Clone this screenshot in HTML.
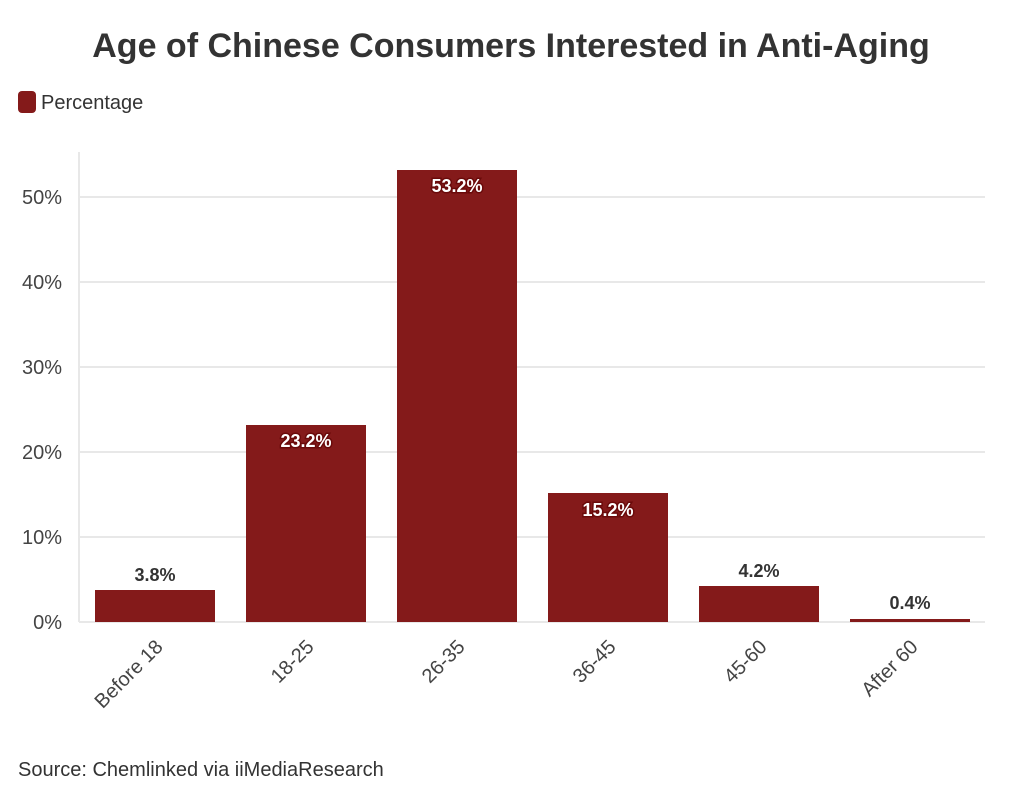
<!DOCTYPE html>
<html><head><meta charset="utf-8"><style>
body{margin:0;background:#fff;width:1022px;height:800px;overflow:hidden;font-family:"Liberation Sans",sans-serif;}
</style></head><body>
<svg width="1022" height="800" xmlns="http://www.w3.org/2000/svg" font-family="Liberation Sans, sans-serif">
<text x="511" y="57" text-anchor="middle" font-size="34" font-weight="bold" fill="#333">Age of Chinese Consumers Interested in Anti-Aging</text>
<rect x="18" y="91" width="18" height="22" rx="4" fill="#841a1a"/>
<text x="41" y="109" font-size="20" fill="#333">Percentage</text>
<g stroke="#e8e8e8" stroke-width="2">
<line x1="79" x2="985" y1="197" y2="197"/>
<line x1="79" x2="985" y1="282" y2="282"/>
<line x1="79" x2="985" y1="367" y2="367"/>
<line x1="79" x2="985" y1="452" y2="452"/>
<line x1="79" x2="985" y1="537" y2="537"/>
<line x1="79" x2="985" y1="622" y2="622"/>
<line x1="79" x2="79" y1="152" y2="622"/>
</g>
<g font-size="20" fill="#444" text-anchor="end">
<text x="62" y="204">50%</text><text x="62" y="289">40%</text><text x="62" y="374">30%</text>
<text x="62" y="459">20%</text><text x="62" y="544">10%</text><text x="62" y="629">0%</text>
</g>
<g fill="#841a1a">
<rect x="95" y="590" width="120" height="32"/>
<rect x="246" y="425" width="120" height="197"/>
<rect x="397" y="170" width="120" height="452"/>
<rect x="548" y="493" width="120" height="129"/>
<rect x="699" y="586" width="120" height="36"/>
<rect x="850" y="619" width="120" height="3"/>
</g>
<g font-size="18" font-weight="bold" text-anchor="middle">
<text x="155" y="581" fill="#333">3.8%</text>
<text x="759" y="577" fill="#333">4.2%</text>
<text x="910" y="609" fill="#333">0.4%</text>
<g fill="#fff" stroke="#6a0a0a" stroke-width="3" paint-order="stroke">
<text x="306" y="447">23.2%</text>
<text x="457" y="192">53.2%</text>
<text x="608" y="516">15.2%</text>
</g>
</g>
<g font-size="20" fill="#444" text-anchor="end">
<text transform="translate(164,648) rotate(-45)">Before 18</text>
<text transform="translate(315,648) rotate(-45)">18-25</text>
<text transform="translate(466,648) rotate(-45)">26-35</text>
<text transform="translate(617,648) rotate(-45)">36-45</text>
<text transform="translate(768,648) rotate(-45)">45-60</text>
<text transform="translate(919,648) rotate(-45)">After 60</text>
</g>
<text x="18" y="776" font-size="20" fill="#333">Source: Chemlinked via iiMediaResearch</text>
</svg>
</body></html>
